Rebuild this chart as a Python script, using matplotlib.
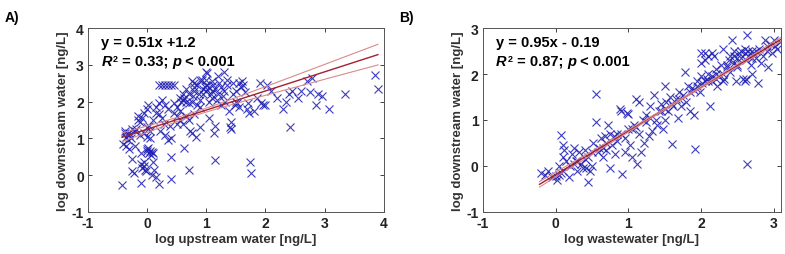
import numpy as np
import matplotlib
matplotlib.use("Agg")
import matplotlib.pyplot as plt

plt.rcParams['font.family'] = ['Liberation Sans', 'DejaVu Sans']
plt.rcParams['font.weight'] = 'bold'
plt.rcParams['axes.unicode_minus'] = False

# panel A: upstream vs downstream (log ng/L)
up_x = [-0.42, -0.4, -0.38, -0.38, -0.35, -0.33, -0.3, -0.3, -0.28, -0.25, -0.25, -0.22, -0.2, -0.2,
        -0.18, -0.15, -0.15, -0.12, -0.12, -0.1, -0.1, -0.1, -0.08, -0.05, -0.05, -0.03, 0.0, 0.0,
        0.02, 0.03, 0.05, 0.06, 0.08, 0.1, 0.0, 0.02, -0.05, -0.08, 0.0, 0.03, 0.05, 0.05, 0.08,
        0.1, -0.02, 0.12, 0.15, 0.2, 0.2, 0.25, 0.3, 0.35, 0.4, 0.45, 0.25, 0.15, 0.2, 0.25, 0.3,
        0.35, 0.28, 0.22, 0.3, 0.35, 0.4, 0.38, 0.4, 0.4, 0.45, 0.5, 0.55, 0.5, 0.58, 0.6, 0.62,
        0.65, 0.62, 0.65, 0.7, 0.7, 0.72, 0.75, 0.78, 0.8, 0.8, 0.82, 0.85, 0.88, 0.9, 0.9, 0.92,
        0.95, 0.98, 1.0, 1.02, 1.05, 1.05, 1.08, 1.1, 1.12, 1.13, 1.15, 1.15, 1.18, 1.2, 1.22, 1.25,
        1.28, 1.3, 1.32, 1.35, 1.38, 1.4, 1.42, 1.42, 1.45, 1.48, 1.5, 1.55, 1.58, 1.6, 1.62, 1.65,
        1.68, 1.7, 1.72, 1.74, 1.75, 1.8, 1.85, 1.9, 1.92, 1.95, 2.0, 2.02, 2.1, 2.2, 2.3, 2.35,
        2.4, 2.42, 2.45, 2.55, 2.6, 2.7, 2.75, 2.78, 2.85, 2.88, 2.95, 3.08, 3.35, 3.85, 3.9,
        0.55, 0.6, 0.65, 0.7, 0.75, 0.85, 0.9, 0.95, 1.0, 1.0, 1.05, 1.1, 1.15, 1.2, 1.25, 0.8,
        0.75, 0.9, 1.0, 1.1, 1.3, 1.35, 1.45, 1.5, 1.52, 1.55, 0.45, 0.5, 0.55, 0.6, 0.7, 0.8,
        0.2, 0.15, 0.1, -0.05, 0.0, -0.25, -0.3, -0.35]
down_a = [-0.28, 0.85, 1.2, 1.15, 0.8, 0.95, 0.7, 1.1, 1.0, 0.45, 0.1, 0.05, 0.8, 1.2,
          1.25, 1.5, 1.6, 1.45, 1.1, -0.2, 0.6, 0.3, 0.2, 0.35, 0.25, 0.15, 0.65, 0.7,
          0.75, 0.6, 0.65, 0.55, 0.62, 0.6, 1.8, 1.9, 1.7, 1.55, 1.3, 1.35, 1.0, 1.2, 0.0,
          0.35, 0.1, 0.15, -0.05, -0.25, 2.45, 2.45, 2.45, 2.45, 2.45, 2.45, 2.05, 1.7, 1.65, 1.55, 1.9,
          1.8, 1.4, 1.2, 1.1, 0.95, 1.0, 1.35, -0.1, 0.5, 1.7, 1.85, 1.5, 1.4, 2.0, 2.2, 2.1,
          2.35, 0.75, 1.6, 1.95, 0.15, 1.2, 1.15, 2.15, 2.3, 2.5, 1.05, 2.45, 2.2, 1.3, 1.85, 2.6,
          2.35, 2.4, 2.8, 2.78, 2.0, 1.55, 2.2, 2.3, 2.45, 1.15, 1.35, 0.42, 2.05, 2.7, 2.5, 1.9,
          2.15, 2.8, 2.0, 2.6, 1.75, 1.3, 1.45, 1.25, 2.2, 1.9, 2.0, 2.5, 2.4, 2.55, 2.45, 2.25,
          1.8, 1.95, 1.7, 0.35, 0.05, 1.75, 2.1, 2.5, 1.95, 1.9, 1.9, 2.45, 2.3, 2.1, 1.8, 2.0,
          2.2, 1.3, 2.3, 2.1, 2.3, 2.55, 2.25, 2.65, 1.9, 2.2, 2.15, 1.8, 2.2, 2.72, 2.35,
          2.1, 2.05, 2.0, 2.2, 2.0, 1.9, 2.05, 2.2, 2.3, 2.45, 2.4, 2.55, 2.35, 2.2, 2.4, 2.4,
          2.55, 2.6, 2.6, 2.1, 2.3, 2.45, 2.5, 2.3, 1.95, 1.85, 1.95, 1.6, 1.75, 1.4, 1.5, 1.65,
          1.95, 1.85, 1.5, 1.15, 1.05, 1.25, 1.15, 1.05]

# panel B: wastewater vs downstream
ww_x = [-0.2, -0.15, -0.1, -0.05, 0.0, 0.02, 0.05, 0.08, 0.05, 0.08, 0.1, 0.1, 0.12, 0.15, 0.18,
        0.2, 0.22, 0.25, 0.28, 0.3, 0.32, 0.35, 0.38, 0.4, 0.42, 0.45, 0.45, 0.48, 0.5, 0.52, 0.55,
        0.55, 0.58, 0.6, 0.62, 0.65, 0.68, 0.7, 0.72, 0.75, 0.75, 0.78, 0.8, 0.82, 0.85, 0.88, 0.9,
        0.92, 0.95, 0.95, 0.98, 1.0, 1.0, 1.02, 1.05, 1.08, 1.1, 1.12, 1.15, 1.15, 1.18, 1.2, 1.22,
        1.25, 1.28, 1.3, 1.32, 1.35, 1.38, 1.4, 1.42, 1.45, 1.48, 1.5, 1.5, 1.52, 1.55, 1.58, 1.6,
        1.62, 1.65, 1.68, 1.7, 1.72, 1.75, 1.78, 1.8, 1.82, 1.85, 1.88, 1.9, 1.92, 1.95, 1.98, 2.0,
        2.0, 2.02, 2.05, 2.08, 2.1, 2.12, 2.15, 2.18, 2.2, 2.22, 2.25, 2.28, 2.3, 2.32, 2.35, 2.38,
        2.4, 2.42, 2.45, 2.48, 2.5, 2.52, 2.55, 2.58, 2.6, 2.62, 2.63, 2.63, 2.65, 2.68, 2.7, 2.72,
        2.75, 2.78, 2.8, 2.82, 2.85, 2.88, 2.9, 2.92, 2.95, 2.98, 3.0, 3.02, 3.05, 3.08,
        0.3, 0.5, 0.7, 0.9, 1.1, 1.3, 1.5, 1.7, 1.9, 2.1, 2.3, 2.5, 2.7, 2.9, 2.4, 2.55, 2.6, 2.65,
        2.5, 2.45, 2.35, 2.2, 2.15, 2.05, 1.95, 1.85, 1.6, 1.45, 1.25, 1.05, 0.85, 0.65, 0.4, 0.25,
        0.1, 2.0, 2.1, 2.05, 2.15, 2.45, 2.7, 2.75, 2.6, 2.62, 2.2, 2.3]
down_b = [-0.15, -0.2, -0.1, -0.25, -0.22, -0.3, -0.2, -0.15, 0.0, 0.67, 0.45, 0.2, 0.35, 0.1, -0.25,
          0.0, 0.25, 0.4, 0.1, -0.1, 0.3, 0.05, -0.05, 0.35, -0.05, -0.35, 0.2, -0.1, 0.0, 0.5, 0.95,
          1.57, 0.3, 0.4, 0.6, 0.2, 0.65, 0.35, 0.9, -0.05, 0.7, 0.45, 0.65, 0.25, 0.7, 1.25, 1.2,
          -0.18, 0.6, 0.3, 1.15, 1.12, 0.8, 0.45, 0.2, 0.9, 1.45, 0.05, 1.4, 0.7, 0.3, 1.0, 0.5,
          1.1, 0.65, 1.3, 0.75, 1.55, 1.0, 0.9, 1.2, 1.35, 0.8, 1.75, 1.0, 1.4, 1.2, 1.5, 0.48,
          1.3, 1.45, 1.05, 1.6, 1.3, 1.55, 2.05, 1.4, 1.75, 1.2, 1.7, 1.1, 0.36, 1.85, 1.6, 2.45,
          1.95, 1.8, 2.3, 1.9, 2.0, 1.3, 1.85, 2.4, 2.1, 1.75, 1.95, 2.2, 2.55, 1.9, 2.15, 2.3,
          2.05, 2.75, 2.4, 1.85, 2.2, 2.45, 2.35, 1.9, 2.45, 2.3, 2.85, 0.04, 2.5, 2.2, 2.0, 2.45,
          2.35, 1.8, 2.55, 2.25, 2.4, 2.75, 2.6, 2.15, 2.65, 2.45, 2.75, 2.6, 2.55, 2.7,
          0.1, 0.3, 0.5, 0.7, 0.85, 1.05, 1.25, 1.45, 1.65, 1.85, 2.0, 2.15, 2.35, 2.5, 2.4, 2.5, 2.55, 2.4,
          2.35, 2.25, 2.2, 2.0, 1.95, 1.85, 1.75, 1.6, 1.35, 1.2, 0.95, 0.8, 0.55, 0.4, 0.15, 0.05,
          -0.1, 2.25, 2.4, 2.45, 2.45, 2.5, 2.5, 2.5, 1.85, 1.9, 1.9, 1.85]

# fitted lines (slope, intercept) and conf. band shape
fit_a = (0.52, 1.25)
fit_b = (0.95, -0.19)
band_a = (0.05, 0.089, 0.8)   # min half width, growth, centre x
band_b = (0.015, 0.03, 1.7)

BLUE = '#1c1cb0'
RED = '#a3202e'
PINK = '#d98a8a'
FS = 10.5


def draw_panel(ax, xs, ys, fit, band, xr, xlim, ylim, xt, yt, xlabel, eq, r2):
    ax.plot(xs, ys, 'x', color=BLUE, ms=5.5, mew=0.8, alpha=0.85, zorder=2)
    xx = np.linspace(xr[0], xr[1], 100)
    yy = fit[0] * xx + fit[1]
    hw = np.sqrt(band[0] ** 2 + (band[1] * (xx - band[2])) ** 2)
    ax.plot(xx, yy, color=RED, lw=1.0, zorder=3)
    ax.plot(xx, yy + hw, color=PINK, lw=0.8, zorder=3)
    ax.plot(xx, yy - hw, color=PINK, lw=0.8, zorder=3)
    ax.set_xlim(xlim)
    ax.set_ylim(ylim)
    ax.set_xticks(xt)
    ax.set_yticks(yt)
    ax.tick_params(direction='in', top=True, right=True, length=3, width=0.6,
                   labelsize=10, colors='#222222', pad=3)
    for lbl in ax.get_xticklabels() + ax.get_yticklabels():
        lbl.set_fontweight('bold')
    for s in ax.spines.values():
        s.set_color('#555555')
        s.set_linewidth(0.7)
    ax.set_xlabel(xlabel, fontsize=9.5, fontweight='bold', color='#333333', labelpad=2)
    ax.set_ylabel('log downstream water [ng/L]', fontsize=9.5, fontweight='bold',
                  color='#333333', labelpad=2)
    ax.text(0.045, 0.905, eq, transform=ax.transAxes, fontsize=FS, fontweight='bold',
            va='baseline')
    t = ax.text(0.045, 0.80, 'R', transform=ax.transAxes, fontsize=FS,
                fontweight='bold', style='italic', va='baseline')
    ax.annotate('2', xy=(1, 1), xycoords=t, xytext=(0.5, 0), textcoords='offset points',
                va='top', fontsize=6.5, fontweight='bold')
    t3 = ax.annotate(' = %s; ' % r2, xy=(1, 0), xycoords=t, xytext=(4.5, 0),
                     textcoords='offset points', va='bottom', fontsize=FS, fontweight='bold')
    t4 = ax.annotate('p', xy=(1, 0), xycoords=t3, va='bottom', fontsize=FS,
                     fontweight='bold', style='italic')
    ax.annotate(' < 0.001', xy=(1, 0), xycoords=t4, va='bottom', fontsize=FS,
                fontweight='bold')


fig = plt.figure(figsize=(7.85, 2.55), dpi=100)
ax1 = fig.add_axes([0.112, 0.165, 0.377, 0.721])
ax2 = fig.add_axes([0.615, 0.165, 0.380, 0.721])

draw_panel(ax1, up_x, down_a, fit_a, band_a, (-0.42, 3.9), (-1, 4), (-1, 4),
           [-1, 0, 1, 2, 3, 4], [-1, 0, 1, 2, 3, 4], 'log upstream water [ng/L]',
           'y = 0.51x +1.2', '0.33')
draw_panel(ax2, ww_x, down_b, fit_b, band_b, (-0.22, 3.1), (-1, 3.1), (-1, 3),
           [-1, 0, 1, 2, 3], [-1, 0, 1, 2, 3], 'log wastewater [ng/L]',
           'y = 0.95x - 0.19', '0.87')

fig.text(0.006, 0.955, 'A)', fontsize=10, fontweight='bold', va='top')
fig.text(0.508, 0.955, 'B)', fontsize=10, fontweight='bold', va='top')

fig.savefig('out.png', dpi=100)
